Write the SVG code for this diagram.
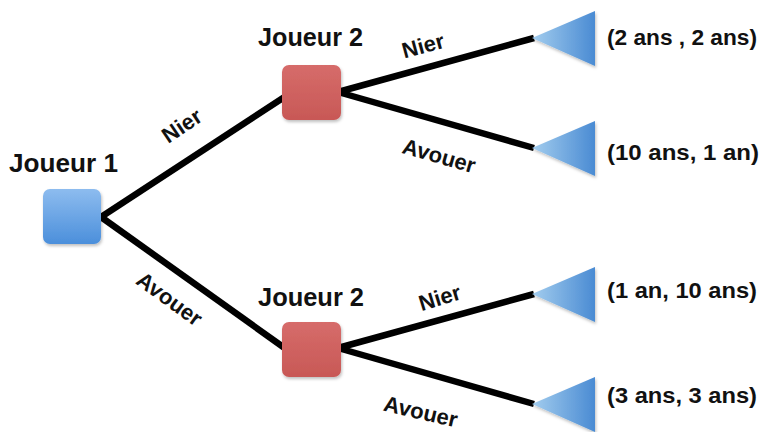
<svg xmlns="http://www.w3.org/2000/svg" width="761" height="432" viewBox="0 0 761 432">
<defs>
<linearGradient id="gBlue" x1="0" y1="0" x2="0" y2="1">
<stop offset="0" stop-color="#8dbcef"/>
<stop offset="1" stop-color="#4b8fdb"/>
</linearGradient>
<linearGradient id="gRed" x1="0" y1="0" x2="0" y2="1">
<stop offset="0" stop-color="#d66c6a"/>
<stop offset="1" stop-color="#c85856"/>
</linearGradient>
<linearGradient id="gTri" x1="0" y1="0" x2="1" y2="0">
<stop offset="0" stop-color="#a3cdee"/>
<stop offset="1" stop-color="#4a8bd3"/>
</linearGradient>
<filter id="sh" x="-20%" y="-20%" width="150%" height="150%">
<feDropShadow dx="1" dy="2" stdDeviation="1.5" flood-color="#000" flood-opacity="0.25"/>
</filter>
</defs>
<style>
.t{font-family:"Liberation Sans",Arial,sans-serif;font-weight:bold;fill:#111;}
.h{font-size:25px;}
.p{font-size:22px;}
.l{font-size:22px;text-anchor:middle;}
.c{stroke:#000;stroke-width:6.5;fill:none;stroke-linecap:butt;}
</style>
<g id="connectors">
<line class="c" x1="101" y1="217" x2="286" y2="96"/>
<line class="c" x1="101" y1="217" x2="286" y2="349"/>
<line class="c" x1="338" y1="92" x2="534" y2="38"/>
<line class="c" x1="338" y1="92" x2="534" y2="148"/>
<line class="c" x1="338" y1="348" x2="534" y2="294"/>
<line class="c" x1="338" y1="348" x2="534" y2="404"/>
<text class="t l" transform="translate(186,132) rotate(-34)">Nier</text>
<text class="t l" transform="translate(165,305) rotate(36)">Avouer</text>
<text class="t l" transform="translate(425,53) rotate(-15)">Nier</text>
<text class="t l" transform="translate(437,163) rotate(16)">Avouer</text>
<text class="t l" transform="translate(442,305) rotate(-17)">Nier</text>
<text class="t l" transform="translate(419,419) rotate(13)">Avouer</text>
</g>
<g id="joueur1">
<rect x="43" y="189" width="58" height="55" rx="7" fill="url(#gBlue)" filter="url(#sh)"/>
<text class="t h" x="9" y="172" textLength="109" lengthAdjust="spacingAndGlyphs">Joueur 1</text>
</g>
<g id="joueur2a">
<rect x="282" y="65" width="59" height="55" rx="7" fill="url(#gRed)" filter="url(#sh)"/>
<text class="t h" x="258" y="46" textLength="105" lengthAdjust="spacingAndGlyphs">Joueur 2</text>
</g>
<g id="joueur2b">
<rect x="282" y="322" width="59" height="55" rx="7" fill="url(#gRed)" filter="url(#sh)"/>
<text class="t h" x="258" y="306" textLength="106" lengthAdjust="spacingAndGlyphs">Joueur 2</text>
</g>
<g id="issue1">
<polygon points="532,38 595,11 595,66" fill="url(#gTri)" filter="url(#sh)"/>
<text class="t p" x="607" y="45" textLength="150" lengthAdjust="spacingAndGlyphs">(2 ans , 2 ans)</text>
</g>
<g id="issue2">
<polygon points="532,148 595,121 595,176" fill="url(#gTri)" filter="url(#sh)"/>
<text class="t p" x="607" y="160" textLength="152" lengthAdjust="spacingAndGlyphs">(10 ans, 1 an)</text>
</g>
<g id="issue3">
<polygon points="532,294 595,267 595,322" fill="url(#gTri)" filter="url(#sh)"/>
<text class="t p" x="607" y="298" textLength="150" lengthAdjust="spacingAndGlyphs">(1 an, 10 ans)</text>
</g>
<g id="issue4">
<polygon points="532,404 595,377 595,432" fill="url(#gTri)" filter="url(#sh)"/>
<text class="t p" x="607" y="403" textLength="150" lengthAdjust="spacingAndGlyphs">(3 ans, 3 ans)</text>
</g>
</svg>
